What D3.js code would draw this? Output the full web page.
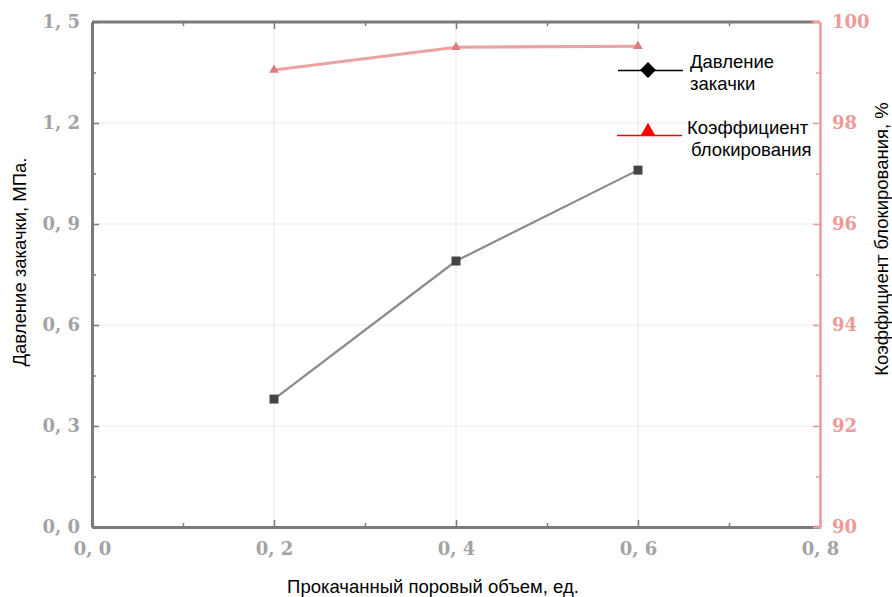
<!DOCTYPE html>
<html>
<head>
<meta charset="utf-8">
<script src="https://cdn.jsdelivr.net/npm/d3@7"></script>
<style>
  body { margin: 0; background: #fff; }
  svg { display: block; }
</style>
</head>
<body>
<svg id="chart" width="892" height="597"></svg>
<script>
// data
const volume = [0.2, 0.4, 0.6]
const pressure = [0.38, 0.79, 1.06]
const blocking = [99.05, 99.5, 99.52]

const xTicks = [0, 0.2, 0.4, 0.6, 0.8]
const xMinor = [0.1, 0.3, 0.5, 0.7]
const yTicks = [0, 0.3, 0.6, 0.9, 1.2, 1.5]
const yMinor = [0.15, 0.45, 0.75, 1.05, 1.35]
const y2Ticks = [90, 92, 94, 96, 98, 100]
const y2Minor = [91, 93, 95, 97, 99]

const legendNames = [["Давление", "закачки"], ["Коэффициент", "блокирования"]]

const svg = d3.select("#chart")
const pLeft = 92, pRight = 820, pTop = 22, pBottom = 527

const x = d3.scaleLinear().domain([0, 0.8]).range([pLeft, pRight])
const y = d3.scaleLinear().domain([0, 1.5]).range([pBottom, pTop])
const y2 = d3.scaleLinear().domain([90, 100]).range([pBottom, pTop])

const fmt = d => d3.format(".1f")(d).replace(".", ", ")
const serif = "'DejaVu Serif', 'Liberation Serif', serif"

// grid
const grid = svg.append("g").attr("stroke", "#ececec").attr("stroke-width", 1.2)
grid.selectAll(".gx").data(xTicks.slice(1, -1)).join("line")
    .attr("x1", d => x(d)).attr("x2", d => x(d)).attr("y1", pTop).attr("y2", pBottom)
grid.selectAll(".gy").data(yTicks.slice(1, -1)).join("line")
    .attr("x1", pLeft).attr("x2", pRight).attr("y1", d => y(d)).attr("y2", d => y(d))

// axes (ticks inward)
const gray = "#7a7a7a"
const pink = "#ee9a9a"

function styleAxis(g, col, w) {
    g.select(".domain").attr("stroke", col).attr("stroke-width", w)
    g.selectAll(".tick line").attr("stroke", col).attr("stroke-width", 1.5)
    g.selectAll(".tick text").attr("fill", col === gray ? "#a3a3a3" : pink)
        .style("font-family", serif).style("font-size", "18px").style("font-weight", "bold")
}

const xb = svg.append("g").attr("transform", `translate(0,${pBottom})`)
    .call(d3.axisBottom(x).tickValues(xTicks).tickFormat(fmt).tickSizeInner(-7).tickSizeOuter(0).tickPadding(15))
styleAxis(xb, gray, 3)
svg.append("g").attr("transform", `translate(0,${pBottom})`)
    .call(d3.axisBottom(x).tickValues(xMinor).tickFormat("").tickSizeInner(-4).tickSizeOuter(0))
    .call(g => { g.select(".domain").remove(); g.selectAll("line").attr("stroke", gray).attr("stroke-width", 1.5) })

const xt = svg.append("g").attr("transform", `translate(0,${pTop})`)
    .call(d3.axisTop(x).tickValues(xTicks.slice(1, -1)).tickFormat("").tickSizeInner(-7).tickSizeOuter(0))
styleAxis(xt, gray, 3)
xt.select(".domain").attr("d", `M${pLeft},0H${pRight - 6}`)
svg.append("g").attr("transform", `translate(0,${pTop})`)
    .call(d3.axisTop(x).tickValues(xMinor).tickFormat("").tickSizeInner(-4).tickSizeOuter(0))
    .call(g => { g.select(".domain").remove(); g.selectAll("line").attr("stroke", gray).attr("stroke-width", 1.5) })

const yl = svg.append("g").attr("transform", `translate(${pLeft},0)`)
    .call(d3.axisLeft(y).tickValues(yTicks).tickFormat(fmt).tickSizeInner(-7).tickSizeOuter(0).tickPadding(12))
styleAxis(yl, gray, 3)
svg.append("g").attr("transform", `translate(${pLeft},0)`)
    .call(d3.axisLeft(y).tickValues(yMinor).tickFormat("").tickSizeInner(-4).tickSizeOuter(0))
    .call(g => { g.select(".domain").remove(); g.selectAll("line").attr("stroke", gray).attr("stroke-width", 1.5) })

const yr = svg.append("g").attr("transform", `translate(${pRight},0)`)
    .call(d3.axisRight(y2).tickValues(y2Ticks).tickFormat(d3.format("d")).tickSizeInner(-7).tickSizeOuter(0).tickPadding(12))
styleAxis(yr, pink, 2.5)
svg.append("g").attr("transform", `translate(${pRight},0)`)
    .call(d3.axisRight(y2).tickValues(y2Minor).tickFormat("").tickSizeInner(-4).tickSizeOuter(0))
    .call(g => { g.select(".domain").remove(); g.selectAll("line").attr("stroke", pink).attr("stroke-width", 1.5) })
// pink corners
svg.append("path").attr("d", `M${pRight - 8},${pTop}H${pRight}`).attr("stroke", pink).attr("stroke-width", 3)
svg.append("path").attr("d", `M${pRight - 6},${pBottom}H${pRight}`).attr("stroke", pink).attr("stroke-width", 3)

// pressure series
const pts = volume.map((v, i) => [v, pressure[i]])
svg.append("path")
    .attr("d", d3.line().x(d => x(d[0])).y(d => y(d[1]))(pts))
    .attr("fill", "none").attr("stroke", "#8a8a8a").attr("stroke-width", 2.2)
svg.selectAll(".sq").data(pts).join("rect")
    .attr("x", d => x(d[0]) - 4.5).attr("y", d => y(d[1]) - 4.5)
    .attr("width", 9).attr("height", 9).attr("fill", "#444")

// blocking series
const bpts = volume.map((v, i) => [v, blocking[i]])
svg.append("path")
    .attr("d", d3.line().x(d => x(d[0])).y(d => y2(d[1]))(bpts))
    .attr("fill", "none").attr("stroke", "#eba2a2").attr("stroke-width", 3.2)
svg.selectAll(".tri").data(bpts).join("path")
    .attr("transform", d => `translate(${x(d[0])},${y2(d[1])})`)
    .attr("d", d3.symbol(d3.symbolTriangle, 40))
    .attr("fill", "#e07b7b")

// legend
const tf = "'Liberation Sans', Arial, sans-serif"
const lg = svg.append("g").style("font-family", tf).style("font-size", "18.5px")
lg.append("line").attr("x1", 618).attr("x2", 683).attr("y1", 70.5).attr("y2", 70.5).attr("stroke", "#000").attr("stroke-width", 1.5)
lg.append("path").attr("transform", "translate(648,70)").attr("d", d3.symbol(d3.symbolDiamond2, 160)).attr("fill", "#000")
lg.append("text").attr("x", 690).attr("y", 68).text(legendNames[0][0])
lg.append("text").attr("x", 690).attr("y", 90).text(legendNames[0][1])
lg.append("line").attr("x1", 617).attr("x2", 682).attr("y1", 135.5).attr("y2", 135.5).attr("stroke", "#ff0000").attr("stroke-width", 1.5)
lg.append("path").attr("transform", "translate(648,131)").attr("d", d3.symbol(d3.symbolTriangle, 90)).attr("fill", "#ff0000")
lg.append("text").attr("x", 687).attr("y", 134).text(legendNames[1][0])
lg.append("text").attr("x", 691).attr("y", 156).text(legendNames[1][1])

// axis titles
svg.append("text").attr("x", 433).attr("y", 593).attr("text-anchor", "middle")
    .style("font-family", tf).style("font-size", "18.5px").text("Прокачанный поровый объем, ед.")
svg.append("text").attr("transform", "translate(26,262) rotate(-90)").attr("text-anchor", "middle")
    .style("font-family", tf).style("font-size", "18.5px").text("Давление закачки, МПа.")
svg.append("text").attr("transform", "translate(888,239) rotate(-90)").attr("text-anchor", "middle")
    .style("font-family", tf).style("font-size", "18.5px").text("Коэффициент блокирования, %")
</script>
</body>
</html>
